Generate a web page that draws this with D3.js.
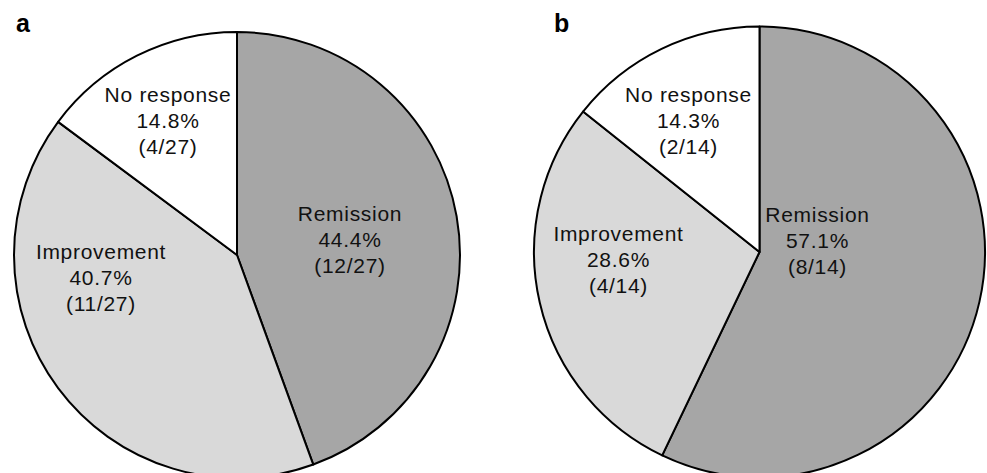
<!DOCTYPE html>
<html><head><meta charset="utf-8">
<script src="https://cdn.jsdelivr.net/npm/d3@7"></script>
<style>html,body{margin:0;padding:0;background:#fff}</style>
</head><body>
<svg id="c" width="987" height="473"></svg>
<script>
const categories = ["Remission", "Improvement", "No response"];
const valuesA = [44.4, 40.7, 14.8];
const countsA = ["12/27", "11/27", "4/27"];
const valuesB = [57.1, 28.6, 14.3];
const countsB = ["8/14", "4/14", "2/14"];
const panelLabels = ["a", "b"];

const colors = d3.scaleOrdinal().domain(categories).range(["#a6a6a6", "#d9d9d9", "#ffffff"]);

const svg = d3.select("#c");
const panels = [
  {label: panelLabels[0], values: valuesA, counts: countsA, cx: 237, cy: 255, r: 223, lx: 16,
   lab: [[113, -8], [-136, 30], [-69, -127]]},
  {label: panelLabels[1], values: valuesB, counts: countsB, cx: 759.5, cy: 252, r: 225.5, lx: 554,
   lab: [[58, -4], [-141, 15], [-71, -124]]}
];

const pie = d3.pie().sort(null).value(d => d.v);

panels.forEach(p => {
  const data = categories.map((c, i) => ({c, v: p.values[i], n: p.counts[i], i}));
  const arc = d3.arc().innerRadius(0).outerRadius(p.r);
  const g = svg.append("g").attr("transform", `translate(${p.cx},${p.cy})`);
  const arcs = pie(data);
  g.selectAll("path").data(arcs).enter().append("path")
    .attr("d", arc)
    .attr("fill", d => colors(d.data.c))
    .attr("stroke", "#000")
    .attr("stroke-width", 2)
    .attr("stroke-linejoin", "round");
  arcs.forEach((a, k) => {
    const [dx, dy] = p.lab[k];
    const t = g.append("text")
      .attr("text-anchor", "middle")
      .attr("font-family", "Liberation Sans, Arial, sans-serif")
      .attr("font-size", 21)
      .attr("letter-spacing", 0.7)
      .attr("fill", "#111");
    const lines = [a.data.c, a.data.v.toFixed(1) + "%", "(" + a.data.n + ")"];
    lines.forEach((s, j) => {
      t.append("tspan").attr("x", dx).attr("y", dy + (j - 1) * 26).text(s);
    });
  });
  svg.append("text")
    .attr("x", p.lx).attr("y", 32)
    .attr("font-family", "Liberation Sans, Arial, sans-serif")
    .attr("font-weight", "bold")
    .attr("font-size", 25)
    .attr("fill", "#000")
    .text(p.label);
});
</script>
</body></html>
